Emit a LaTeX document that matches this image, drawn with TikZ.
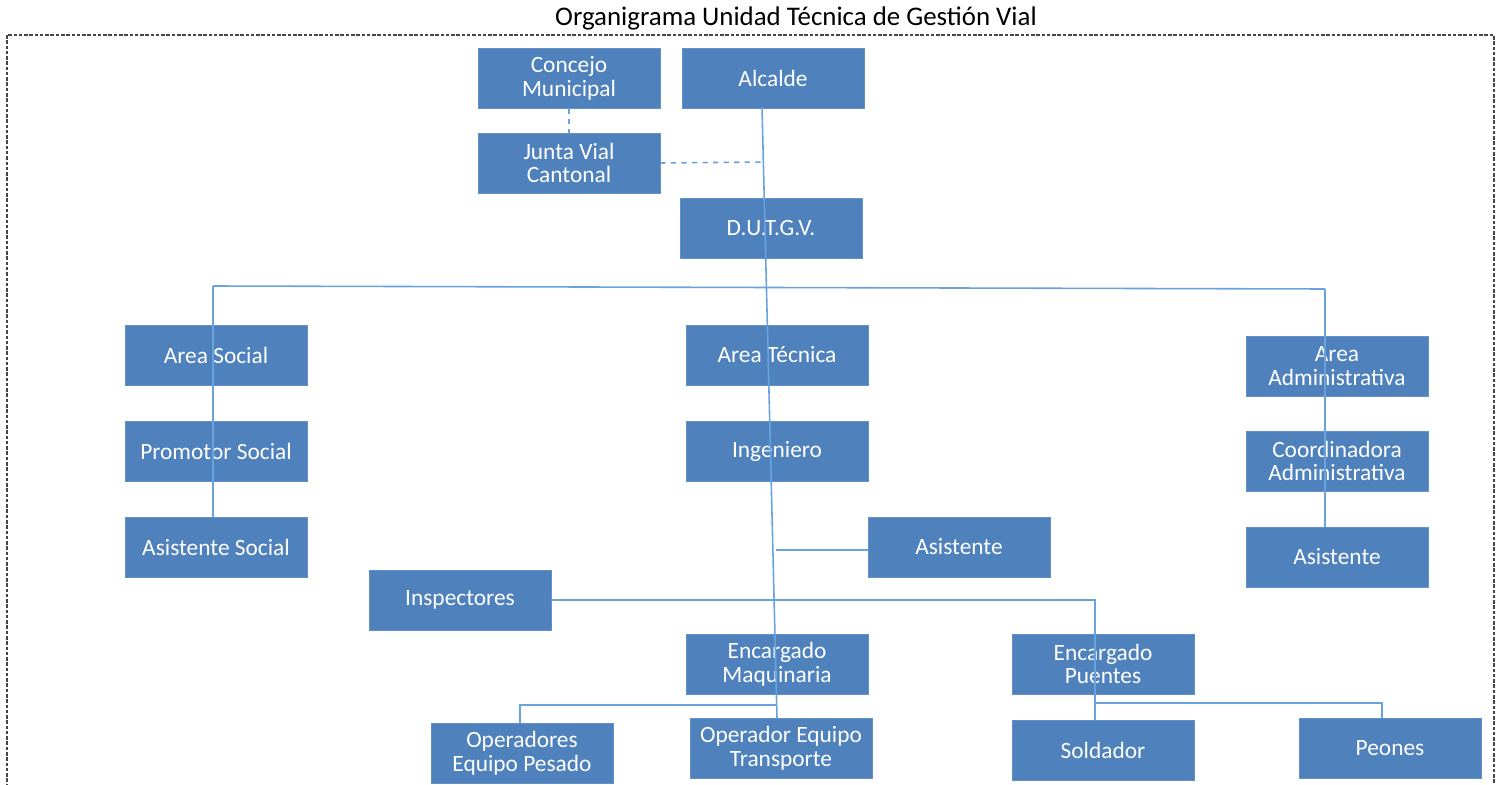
\documentclass[tikz,border=0pt]{standalone}
\usepackage{fontspec}
\setmainfont{Carlito}
\usepackage{tikz}
\usetikzlibrary{positioning,calc}
\definecolor{boxblue}{RGB}{79,129,189}
\definecolor{boxedge}{RGB}{98,145,200}
\definecolor{linkblue}{RGB}{105,163,222}
\definecolor{frameg}{RGB}{70,70,70}
\tikzset{unit/.style={draw=boxedge, fill=boxblue, text=white, minimum width=3.64cm, minimum height=1.2cm, inner sep=1pt, align=center, font=\fontsize{13.3}{13.6}\selectfont},
         link/.style={linkblue, line width=0.9pt}}

\begin{document}
\begin{tikzpicture}[x=0.2mm,y=-0.2mm]
\useasboundingbox (0,0) rectangle (1497,785);
\begin{scope}
\clip (0,0) rectangle (1497,785);
\draw[frameg, line width=0.6pt, dash pattern=on 2pt off 1pt] (7,35) rectangle (1494,820);
\end{scope}

\node[font=\fontsize{15.3}{17}\selectfont] (title) at (796,18) {Organigrama Unidad Técnica de Gestión Vial};

% top
\node[unit] (concejo) at (569,78) {Concejo\\Municipal};
\node[unit] (alcalde) at (773,78) {Alcalde};
\node[unit] (junta) at (569,163) {Junta Vial\\Cantonal};
\node[unit] (dutgv) at (771,228) {D.U.T.G.V.};

% areas
\node[unit] (areasoc) at (216,355) {Area Social};
\node[unit] (promotor) at (216,451) {Promotor Social};
\node[unit] (asissoc) at (216,547) {Asistente Social};

\node[unit] (areatec) at (777,355) {Area Técnica};
\node[unit] (ingeniero) at (777,451) {Ingeniero};
\node[unit] (asistec) at (959,547) {Asistente};

\node[unit] (areaadm) at (1337,366) {Area\\Administrativa};
\node[unit] (coordadm) at (1337,461) {Coordinadora\\Administrativa};
\node[unit] (asisadm) at (1337,557) {Asistente};

% campo
\node[unit] (inspect) at (460,600) {Inspectores};
\node[unit] (encmaq) at (777,664) {Encargado\\Maquinaria};
\node[unit] (encpue) at (1103,664) {Encargado\\Puentes};
\node[unit] (operpes) at (522,753) {Operadores\\Equipo Pesado};
\node[unit] (opertra) at (781,748) {Operador Equipo\\Transporte};
\node[unit] (soldador) at (1103,750) {Soldador};
\node[unit] (peones) at (1390,748) {Peones};

% lineas
\coordinate (mtop) at (762,107);
\coordinate (mbot) at (777,718);
\coordinate (jjunta) at (765,162);
\coordinate (jl) at (213,286);
\coordinate (jr) at (1325,289);
\coordinate (jasis) at (776,550);
\coordinate (jpue) at (1095,600);
\coordinate (jpeo) at (1095,703);
\coordinate (jpeo2) at (1382,703);
\coordinate (jmaq) at (777,705);
\coordinate (jop) at (520,705);

\draw[link] (mtop) -- (mbot);
\draw[link, dashed] (concejo) -- (junta);
\draw[link, dashed] (junta.east) -- (jjunta);
\draw[link] (jl) -- (jr);
\draw[link] (jl) -- (jl |- asissoc.north);
\draw[link] (jr) -- (jr |- asisadm.north);
\draw[link] (jasis) -- (jasis -| asistec.west);
\draw[link] (inspect.east) -- (jpue) -- (jpue |- soldador.north);
\draw[link] (jpeo) -- (jpeo2) -- (jpeo2 |- peones.north);
\draw[link] (jmaq) -- (jop) -- (jop |- operpes.north);
\end{tikzpicture}
\end{document}
